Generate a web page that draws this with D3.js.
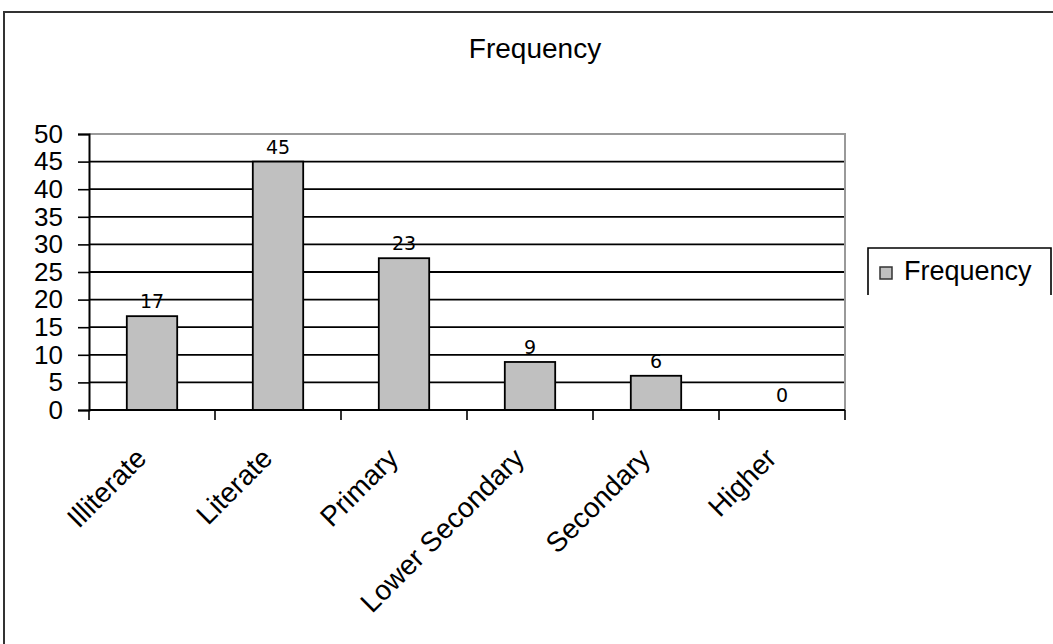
<!DOCTYPE html>
<html>
<head>
<meta charset="utf-8">
<script src="https://cdn.jsdelivr.net/npm/d3@7"></script>
<style>
  body { margin: 0; background: #fff; }
  svg { display: block; }
  text { font-family: "Liberation Sans", Arial, sans-serif; fill: #000; }
  .val { font-family: "DejaVu Sans", Tahoma, sans-serif; }
</style>
</head>
<body>
<svg id="chart" width="1053" height="644"></svg>
<script>
// chart data
const categories = ["Illiterate", "Literate", "Primary", "Lower Secondary", "Secondary", "Higher"];
const values     = [17, 45, 27.5, 8.7, 6.2, 0];        // bar heights as drawn
const valueLabels = ["17", "45", "23", "9", "6", "0"];  // labels as printed above bars
const yTicks     = [0, 5, 10, 15, 20, 25, 30, 35, 40, 45, 50];
const seriesName = "Frequency";

const width = 1053, height = 644;
const plot = {left: 89, right: 845, top: 134, bottom: 410};

const svg = d3.select("#chart");

// outer chart border (runs off the page at right/bottom)
svg.append("rect")
  .attr("x", 4).attr("y", 12)
  .attr("width", 1200).attr("height", 800)
  .attr("fill", "none")
  .attr("stroke", "#333")
  .attr("stroke-width", 2);

// title
svg.append("text")
  .attr("x", 535).attr("y", 58)
  .attr("text-anchor", "middle")
  .attr("font-size", 28)
  .text(seriesName);

const x = d3.scaleBand()
  .domain(categories)
  .range([plot.left, plot.right])
  .paddingInner(0.6)
  .paddingOuter(0.3);

const y = d3.scaleLinear()
  .domain([0, 50])
  .range([plot.bottom, plot.top]);

// gridlines
svg.append("g")
  .selectAll("line")
  .data(yTicks.filter(d => d > 0 && d < 50))
  .join("line")
  .attr("x1", plot.left).attr("x2", plot.right)
  .attr("y1", d => y(d)).attr("y2", d => y(d))
  .attr("stroke", "#000")
  .attr("stroke-width", 1.8);

// plot area top/right border (gray)
svg.append("path")
  .attr("d", `M${plot.left},${y(50)}H${plot.right}V${plot.bottom}`)
  .attr("fill", "none")
  .attr("stroke", "#999")
  .attr("stroke-width", 2);

// bars
svg.append("g")
  .selectAll("rect")
  .data(values)
  .join("rect")
  .attr("x", (d, i) => x(categories[i]))
  .attr("y", d => y(d))
  .attr("width", x.bandwidth())
  .attr("height", d => y(0) - y(d))
  .attr("fill", "#c0c0c0")
  .attr("stroke", "#000")
  .attr("stroke-width", 1.8);

// value labels
svg.append("g")
  .selectAll("text")
  .data(values)
  .join("text")
  .attr("class", "val")
  .attr("x", (d, i) => x(categories[i]) + x.bandwidth() / 2)
  .attr("y", d => y(d) - 8)
  .attr("text-anchor", "middle")
  .attr("font-size", 19)
  .text((d, i) => valueLabels[i]);

// y axis
const yAxis = svg.append("g")
  .attr("transform", `translate(${plot.left},0)`)
  .call(d3.axisLeft(y).tickValues(yTicks).tickSize(11).tickPadding(15));
yAxis.select(".domain").attr("stroke", "#000").attr("stroke-width", 2);
yAxis.selectAll(".tick line").attr("stroke", "#000").attr("stroke-width", 1.6);
yAxis.selectAll(".tick text")
  .attr("font-size", 26)
  .attr("font-family", "Liberation Sans, Arial, sans-serif")
  .attr("fill", "#000");

// x axis: ticks sit on category boundaries
const bounds = d3.range(categories.length + 1).map(i => plot.left + i * x.step());
svg.append("line")
  .attr("x1", plot.left).attr("x2", plot.right)
  .attr("y1", plot.bottom).attr("y2", plot.bottom)
  .attr("stroke", "#000").attr("stroke-width", 2);
svg.append("g")
  .selectAll("line")
  .data(bounds)
  .join("line")
  .attr("x1", d => d).attr("x2", d => d)
  .attr("y1", plot.bottom).attr("y2", plot.bottom + 10)
  .attr("stroke", "#000").attr("stroke-width", 1.6);

// rotated category labels
svg.append("g")
  .selectAll("text")
  .data(categories)
  .join("text")
  .attr("transform", d => `translate(${x(d) + x.bandwidth() / 2 - 4},460) rotate(-45)`)
  .attr("text-anchor", "end")
  .attr("font-size", 28)
  .text(d => d);

// legend
const lg = svg.append("g");
lg.append("path")
  .attr("d", "M868,295V248H1051V295")
  .attr("fill", "none")
  .attr("stroke", "#000")
  .attr("stroke-width", 1.6);
lg.append("rect")
  .attr("x", 880).attr("y", 267)
  .attr("width", 12).attr("height", 12)
  .attr("fill", "#c0c0c0")
  .attr("stroke", "#333")
  .attr("stroke-width", 1.5);
lg.append("text")
  .attr("x", 904).attr("y", 280)
  .attr("font-size", 27)
  .text(seriesName);
</script>
</body>
</html>
